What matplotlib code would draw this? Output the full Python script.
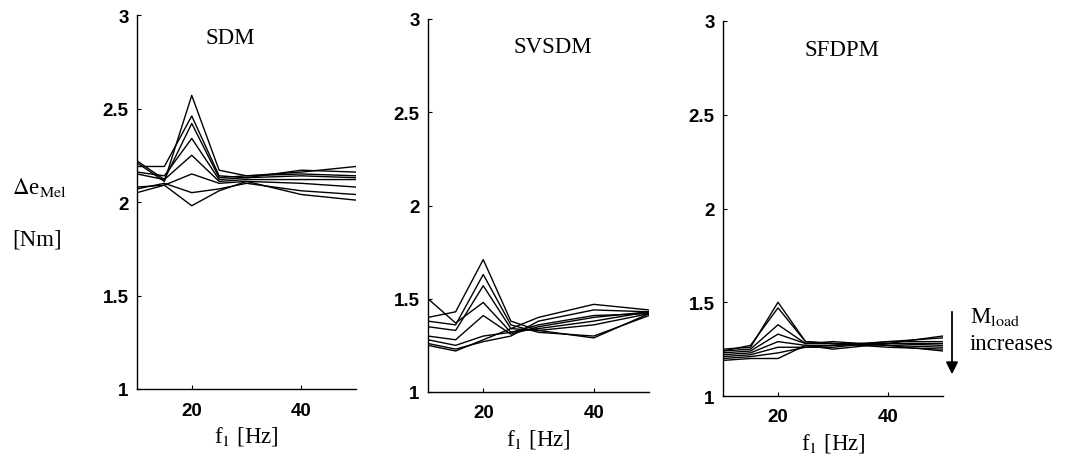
import numpy as np
import matplotlib
matplotlib.use('Agg')
import matplotlib.pyplot as plt

plt.rcParams['mathtext.fontset'] = 'stix'

# data
f1 = [10, 15, 20, 25, 30, 40, 50]

sdm = [
    [2.21, 2.11, 2.57, 2.17, 2.14, 2.16, 2.19],
    [2.19, 2.19, 2.46, 2.14, 2.13, 2.17, 2.16],
    [2.22, 2.12, 2.42, 2.13, 2.14, 2.15, 2.14],
    [2.16, 2.14, 2.34, 2.12, 2.13, 2.14, 2.13],
    [2.15, 2.12, 2.25, 2.11, 2.12, 2.12, 2.12],
    [2.08, 2.09, 2.15, 2.10, 2.11, 2.10, 2.08],
    [2.07, 2.10, 2.05, 2.07, 2.10, 2.06, 2.04],
    [2.05, 2.09, 1.98, 2.06, 2.11, 2.04, 2.01],
]
svsdm = [
    [1.40, 1.43, 1.71, 1.38, 1.33, 1.29, 1.42],
    [1.38, 1.36, 1.63, 1.36, 1.32, 1.30, 1.41],
    [1.35, 1.33, 1.57, 1.34, 1.33, 1.36, 1.42],
    [1.50, 1.37, 1.48, 1.32, 1.34, 1.38, 1.43],
    [1.30, 1.28, 1.41, 1.31, 1.35, 1.40, 1.43],
    [1.28, 1.25, 1.30, 1.32, 1.36, 1.41, 1.42],
    [1.26, 1.23, 1.27, 1.30, 1.38, 1.44, 1.43],
    [1.25, 1.22, 1.28, 1.34, 1.40, 1.47, 1.44],
]
sfdpm = [
    [1.25, 1.26, 1.50, 1.29, 1.28, 1.27, 1.24],
    [1.24, 1.27, 1.47, 1.29, 1.28, 1.26, 1.25],
    [1.24, 1.25, 1.38, 1.28, 1.29, 1.27, 1.26],
    [1.23, 1.24, 1.33, 1.28, 1.28, 1.28, 1.27],
    [1.22, 1.23, 1.29, 1.27, 1.27, 1.28, 1.28],
    [1.21, 1.22, 1.26, 1.26, 1.27, 1.29, 1.29],
    [1.20, 1.21, 1.23, 1.26, 1.26, 1.29, 1.31],
    [1.19, 1.20, 1.20, 1.27, 1.25, 1.28, 1.32],
]

titles = ['SDM', 'SVSDM', 'SFDPM']
yticks = [1, 1.5, 2, 2.5, 3]
yticklabels = ['1', '1.5', '2', '2.5', '3']
xticks = [20, 40]

serif = 'Liberation Serif'
sans = 'Liberation Sans'

fig = plt.figure(figsize=(10.81, 4.64), dpi=100)

# axes boxes in pixels (left, top, right, bottom)
boxes = [(137, 16, 356, 390), (428, 20, 649, 393), (723, 22, 943, 397)]
title_pos = [(0.425, 0.94), (0.566, 0.925), (0.54, 0.925)]
W, H = 1081, 464

for k, (data, title) in enumerate(zip([sdm, svsdm, sfdpm], titles)):
    l, t, r, b = boxes[k]
    ax = fig.add_axes([l / W, 1 - b / H, (r - l) / W, (b - t) / H])
    for line in data:
        ax.plot(f1, line, color='black', lw=1.0)
    ax.set_xlim(10, 50)
    ax.set_ylim(1, 3)
    ax.set_xticks(xticks)
    ax.set_yticks(yticks)
    ax.set_yticklabels(yticklabels)
    for lab in ax.get_xticklabels() + ax.get_yticklabels():
        lab.set_fontfamily(sans)
        lab.set_fontweight('bold')
        lab.set_fontsize(13.5)
    ax.tick_params(axis='x', direction='in', length=3, pad=9)
    ax.tick_params(axis='y', direction='in', length=3, pad=6)
    ax.spines['top'].set_visible(False)
    ax.spines['right'].set_visible(False)
    for s in ['left', 'bottom']:
        ax.spines[s].set_linewidth(1.0)
    ax.text(title_pos[k][0], title_pos[k][1], title, transform=ax.transAxes,
            ha='center', va='center', fontfamily=serif, fontsize=16.5)
    ax.set_xlabel(r'f$_{\mathrm{1}}$ [Hz]', fontfamily=serif, fontsize=16.5,
                  labelpad=4)

# y label
fig.text(12 / W, 1 - 188 / H, r'$\Delta$e$_{\mathrm{Mel}}$', ha='left',
         va='center', fontfamily=serif, fontsize=16.5)
fig.text(12 / W, 1 - 240 / H, '[Nm]', ha='left', va='center',
         fontfamily=serif, fontsize=16.5)

# load arrow
fig.patches.append(matplotlib.patches.FancyArrowPatch(
    (952 / W, 1 - 310 / H), (952 / W, 1 - 378 / H),
    transform=fig.transFigure, arrowstyle='-|>', mutation_scale=18,
    color='black', lw=1.3))
fig.text(970 / W, 1 - 323 / H, r'M$_{\mathrm{load}}$', ha='left',
         va='baseline', fontfamily=serif, fontsize=16.5)
fig.text(970 / W, 1 - 350 / H, 'increases', ha='left', va='baseline',
         fontfamily=serif, fontsize=16.5)

fig.savefig('out.png', dpi=100)
